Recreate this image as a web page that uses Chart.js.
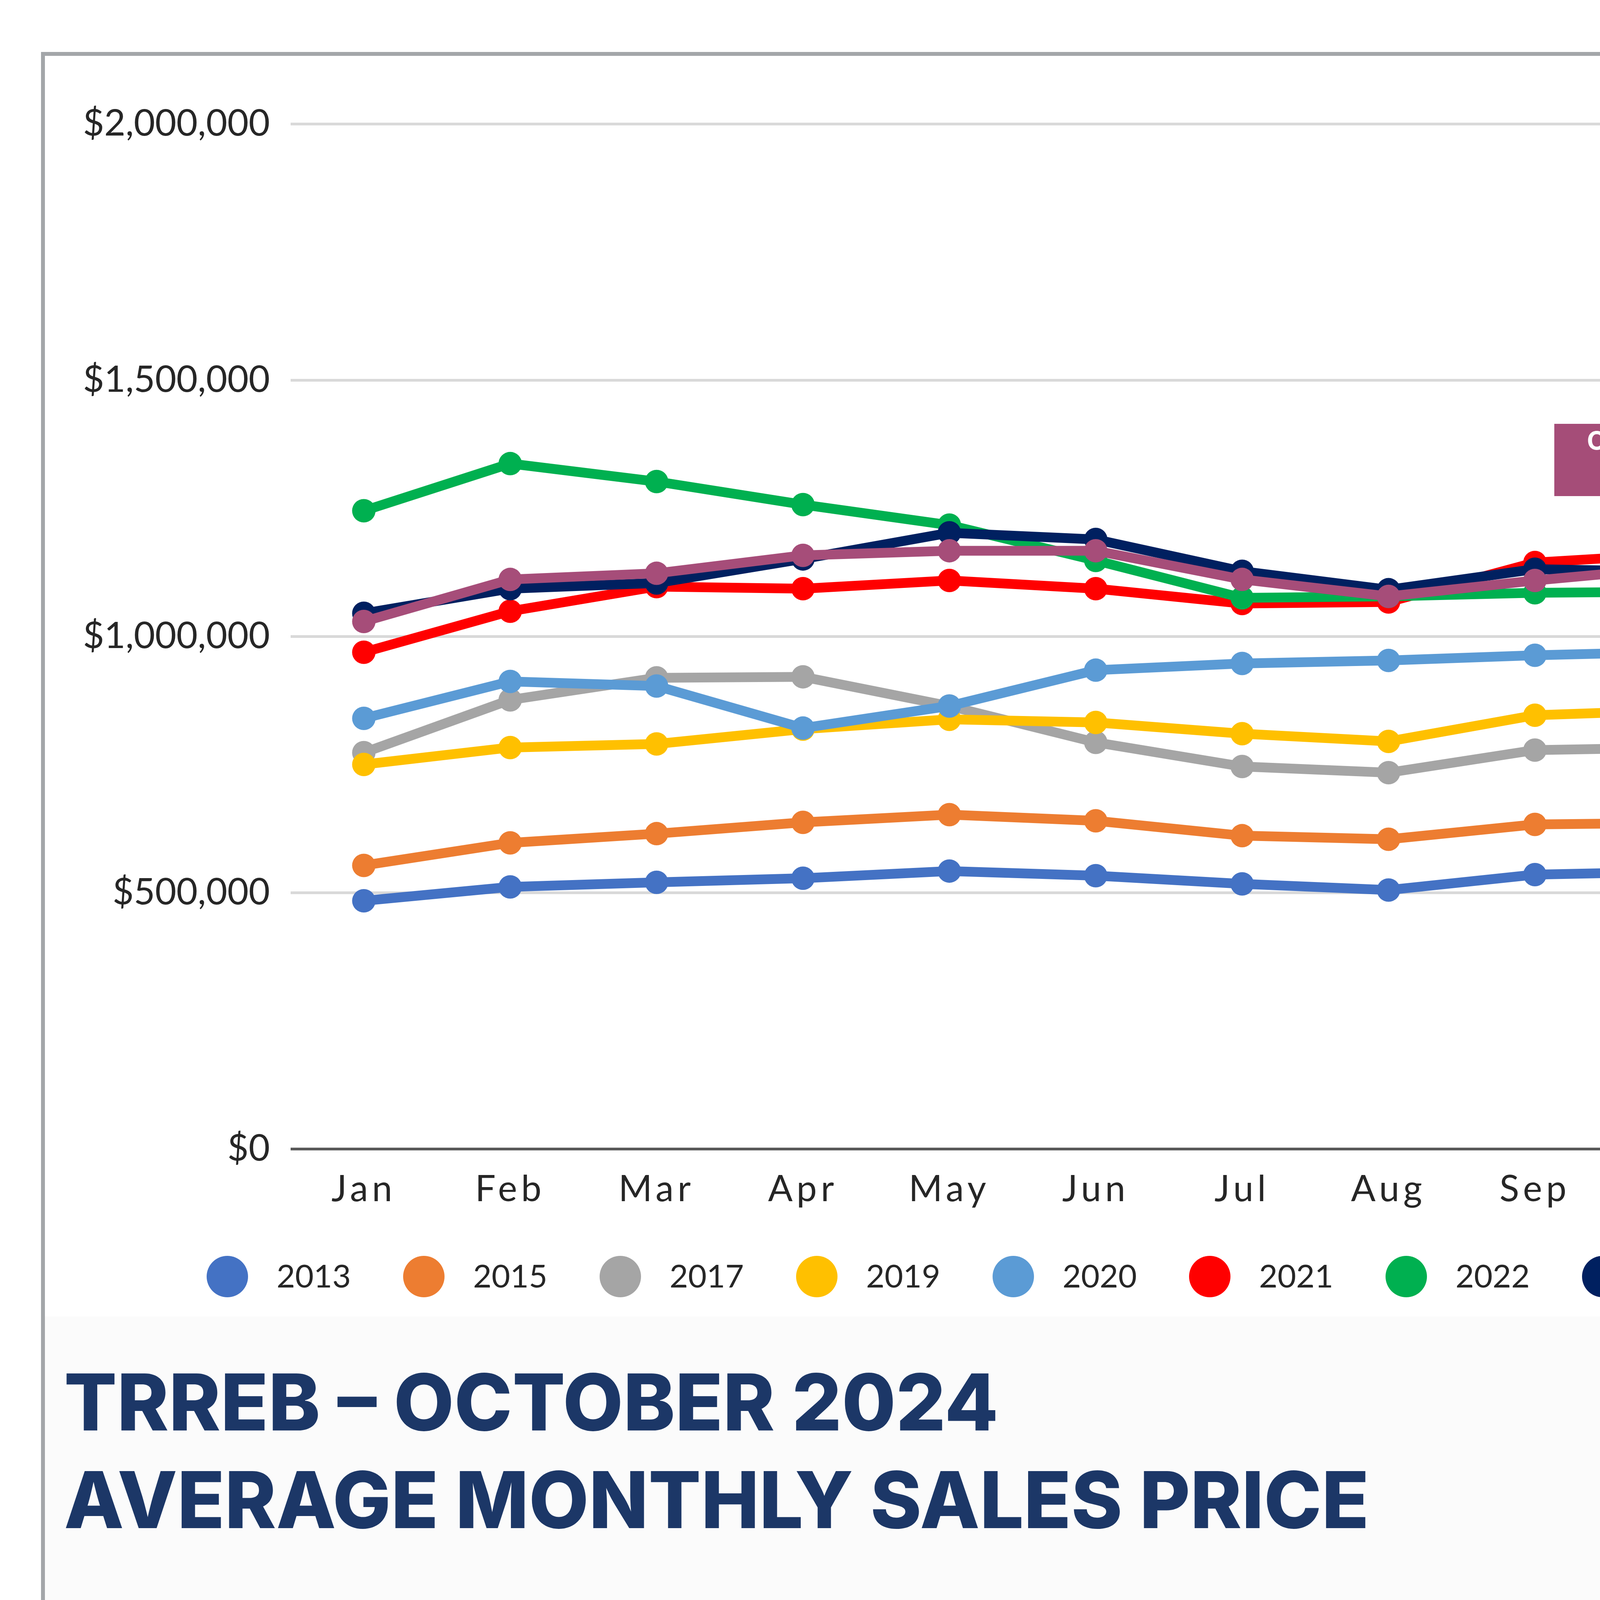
<!DOCTYPE html>
<html><head><meta charset="utf-8">
<script src="https://cdn.jsdelivr.net/npm/chart.js@4.4.1/dist/chart.umd.min.js"></script>
<style>
html,body{margin:0;padding:0;background:#fff;}
#wrap{position:relative;width:5500px;height:4250px;overflow:hidden;background:#fff;}
#lower{position:absolute;left:110px;top:3370px;width:5280px;height:821px;background:#fbfbfb;}
#c{position:absolute;left:0;top:0;}
#ov{position:absolute;left:0;top:0;}
</style></head>
<body>
<div id="wrap">
<div id="lower"></div>
<canvas id="c" width="5500" height="3450" style="width:5500px;height:3450px"></canvas>
<svg id="ov" width="5500" height="4250" viewBox="0 0 5500 4250" xmlns="http://www.w3.org/2000/svg">
  <defs>
    <clipPath id="bal"><path d="M4465,3672 C4550,3672 4600,3735 4600,3800 C4600,3860 4530,3920 4484,3987 L4446,3987 C4400,3920 4330,3860 4330,3800 C4330,3735 4380,3672 4465,3672 Z"/></clipPath>
    <linearGradient id="gr" x1="0" x2="1" y1="0" y2="0">
      <stop offset="0" stop-color="#9e1424"/><stop offset="0.3" stop-color="#c8182b"/><stop offset="0.5" stop-color="#e21d33"/><stop offset="0.7" stop-color="#c8182b"/><stop offset="1" stop-color="#9e1424"/>
    </linearGradient>
    <linearGradient id="gb" x1="0" x2="1" y1="0" y2="0">
      <stop offset="0" stop-color="#002f6c"/><stop offset="0.3" stop-color="#003f88"/><stop offset="0.5" stop-color="#0052a3"/><stop offset="0.7" stop-color="#003f88"/><stop offset="1" stop-color="#002f6c"/>
    </linearGradient>
  </defs>
  <rect x="110" y="138" width="5280" height="4053" fill="none" stroke="#a3a6a9" stroke-width="10"/>

  <rect x="3979" y="1085" width="615" height="185" fill="#a54d78"/>
  <text x="4286" y="1151" font-family="Inter" font-weight="700" font-size="64" fill="#fff" text-anchor="middle" textLength="447" lengthAdjust="spacingAndGlyphs">October 2024</text>
  <text x="4286" y="1237" font-family="Inter" font-weight="700" font-size="64" fill="#fff" text-anchor="middle" textLength="314" lengthAdjust="spacingAndGlyphs">$1,135,215</text>

  <text x="164" y="3662" font-family="Inter" font-weight="800" font-size="201" fill="#1c3767" textLength="2392" lengthAdjust="spacingAndGlyphs">TRREB – OCTOBER 2024</text>
  <text x="164" y="3912" font-family="Inter" font-weight="800" font-size="201" fill="#1c3767" textLength="3341" lengthAdjust="spacingAndGlyphs">AVERAGE MONTHLY SALES PRICE</text>

  <g clip-path="url(#bal)">
    <rect x="4300" y="3660" width="330" height="150" fill="url(#gr)"/>
    <rect x="4300" y="3752" width="330" height="90" fill="#fff"/>
    <circle cx="4345" cy="3755" r="30" fill="#fff"/><circle cx="4405" cy="3750" r="30" fill="#fff"/><circle cx="4465" cy="3748" r="30" fill="#fff"/><circle cx="4525" cy="3750" r="30" fill="#fff"/><circle cx="4585" cy="3755" r="30" fill="#fff"/>
    <rect x="4300" y="3852" width="330" height="150" fill="url(#gb)"/>
    <circle cx="4350" cy="3852" r="32" fill="url(#gb)"/><circle cx="4410" cy="3848" r="32" fill="#003f88"/><circle cx="4465" cy="3846" r="32" fill="#0052a3"/><circle cx="4520" cy="3848" r="32" fill="#003f88"/><circle cx="4580" cy="3852" r="32" fill="url(#gb)"/>
  </g>
  <text x="4362" y="3810" font-family="Inter" font-weight="800" font-size="62" fill="#0054a4" textLength="206" lengthAdjust="spacingAndGlyphs">RE<tspan fill="#dc1c2e">/</tspan>MAX</text>
  <path d="M4449,4002 L4479,4002 L4475,4024 L4453,4024 Z" fill="#444"/>
  <text x="4488" y="4022" font-family="DejaVu Sans" font-size="20" fill="#444">®</text>

  <text x="4640" y="3720" font-family="Open Sans" font-weight="400" font-size="53" fill="#111" textLength="623" lengthAdjust="spacingAndGlyphs">THE REALTRON GROUP</text>
  <rect x="4635" y="3745" width="634" height="132" fill="#0054a6"/>
  <text x="4655" y="3857" font-family="Open Sans" font-weight="700" font-size="132" fill="#fff" textLength="589" lengthAdjust="spacingAndGlyphs">REALTRON</text>
  <line x1="4632" y1="3908" x2="4915" y2="3908" stroke="#333" stroke-width="5"/>
  <line x1="4984" y1="3908" x2="5269" y2="3908" stroke="#333" stroke-width="5"/>
  <path d="M4934,3920 L4966,3920 L4968,3902 L4960,3910 L4955,3898 L4950,3908 L4945,3898 L4940,3910 L4932,3902 Z" fill="#333"/>
  <line x1="4950" y1="3884" x2="4950" y2="3898" stroke="#333" stroke-width="3"/>
  <text x="4632" y="3983" font-family="Liberation Serif" font-size="56" fill="#333" textLength="637" lengthAdjust="spacingAndGlyphs"><tspan font-size="74">R</tspan>OYAL <tspan font-size="74">P</tspan>ROPERTIES</text>
  <line x1="4632" y1="4014" x2="4818" y2="4014" stroke="#333" stroke-width="4"/>
  <line x1="5081" y1="4014" x2="5269" y2="4014" stroke="#333" stroke-width="4"/>
  <text x="4837" y="4020" font-family="Open Sans" font-size="18" fill="#333" textLength="227" lengthAdjust="spacingAndGlyphs">REALTY BROKERAGE</text>
</svg>
</div>
<script>
const months = ['Jan','Feb','Mar','Apr','May','Jun','Jul','Aug','Sep','Oct','Nov','Dec'];
const years = ['2013','2015','2017','2019','2020','2021','2022','2023','2024'];
const colors = ['#4472C4','#ED7D31','#A5A5A5','#FFC000','#5B9BD5','#FF0000','#00B050','#002060','#A64D79'];
const s2013 = [484000, 511000, 520000, 528000, 542000, 533000, 517000, 505000, 535000, 541000, 541000, 522000];
const s2015 = [553000, 597000, 615000, 637000, 652000, 640000, 611000, 604000, 633000, 636000, 637000, 611000];
const s2017 = [773000, 876000, 919000, 921000, 864000, 793000, 746000, 734000, 778000, 783000, 764000, 737000];
const s2019 = [750000, 783000, 790000, 819000, 838000, 832000, 810000, 795000, 846000, 856000, 846000, 840000];
const s2020 = [840000, 912000, 903000, 821000, 864000, 934000, 947000, 953000, 963000, 970000, 959000, 934000];
const s2021 = [969000, 1049000, 1097000, 1093000, 1109000, 1093000, 1064000, 1067000, 1144000, 1161000, 1166000, 1158000];
const s2022 = [1245000, 1337000, 1302000, 1257000, 1217000, 1148000, 1075000, 1078000, 1085000, 1087000, 1075000, 1053000];
const s2023 = [1045000, 1093000, 1104000, 1151000, 1202000, 1189000, 1127000, 1091000, 1131000, 1126000, 1085000, 1087000];
const s2024 = [1029000, 1111000, 1123000, 1158000, 1167000, 1167000, 1111000, 1078000, 1109000, 1135215];
const series = [s2013, s2015, s2017, s2019, s2020, s2021, s2022, s2023, s2024];
const yTicks = [0, 500000, 1000000, 1500000, 2000000];

const datasets = years.map((y, i) => ({
  label: y,
  data: series[i],
  borderColor: colors[i],
  backgroundColor: colors[i],
  pointBackgroundColor: colors[i],
  borderWidth: 25,
  pointRadius: 30,
  pointHoverRadius: 30,
  pointBorderWidth: 0,
  tension: 0,
  fill: false,
  order: years.length - 1 - i
}));

const spacingPlugin = {
  id: 'xLetterSpacing',
  beforeDraw(chart) {
    const s = chart.scales.x;
    if (s && !s.__wrapped) {
      const orig = s.drawLabels.bind(s);
      s.drawLabels = function (area) {
        const c = chart.ctx;
        c.save();
        try { c.letterSpacing = '10px'; } catch (e) {}
        orig(area);
        c.restore();
      };
      s.__wrapped = true;
    }
  }
};

const legendPlugin = {
  id: 'customLegend',
  afterDraw(chart) {
    const c = chart.ctx;
    const x0 = 582, step = 503, y = 3268, r = 53;
    const last = chart.data.datasets.length - 1;
    c.save();
    chart.data.datasets.forEach((d, i) => {
      const cx = x0 + i * step;
      c.fillStyle = d.borderColor;
      c.beginPath();
      c.arc(cx, y, r, 0, Math.PI * 2);
      c.fill();
      c.fillStyle = '#262626';
      c.font = (i === last ? 'bold ' : '') + '82px Lato';
      c.textAlign = 'left';
      c.textBaseline = 'middle';
      c.fillText(d.label, cx + 126, y + 2);
    });
    c.restore();
  }
};

new Chart(document.getElementById('c'), {
  type: 'line',
  data: { labels: months, datasets },
  options: {
    responsive: false,
    animation: false,
    devicePixelRatio: 1,
    layout: { padding: { left: 0, right: 259, top: 317, bottom: 309 } },
    plugins: { legend: { display: false }, tooltip: { enabled: false } },
    scales: {
      x: {
        offset: true,
        grid: { display: false, drawTicks: false },
        border: { display: false },
        ticks: { padding: 48, color: '#262626', font: { family: 'Lato', size: 93 } },
        afterFit(s) { s.height = 200; }
      },
      y: {
        min: 0, max: 2000000,
        afterBuildTicks(s) { s.ticks = yTicks.map(v => ({ value: v })); },
        ticks: {
          padding: 53, color: '#262626', font: { family: 'Lato', size: 94 },
          callback: v => '$' + Number(v).toLocaleString('en-US')
        },
        grid: {
          drawTicks: false,
          lineWidth: 7,
          color: ctx => (ctx.tick && ctx.tick.value === 0) ? '#595959' : '#d9d9d9'
        },
        border: { display: false },
        afterFit(s) { s.width = 744; }
      }
    }
  },
  plugins: [spacingPlugin, legendPlugin]
});
</script>
</body></html>
